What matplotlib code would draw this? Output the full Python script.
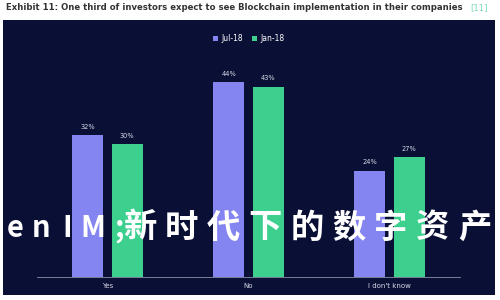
import numpy as np
import matplotlib
matplotlib.use('Agg')
import matplotlib.pyplot as plt

categories = ['Yes', 'No', "I don't know"]
jul_18 = [32, 44, 24]
jan_18 = [30, 43, 27]
series_names = ['Jul-18', 'Jan-18']

title = 'Exhibit 11: One third of investors expect to see Blockchain implementation in their companies'
overlay = 'enIM;新时代下的数字资产管'

navy = '#0a1035'
c_jul = '#8585f2'
c_jan = '#3ccf8e'

fig = plt.figure(figsize=(5, 3), dpi=100)
fig.patch.set_facecolor('white')

# dark panel behind the chart
bg = fig.add_axes([0.006, 0.017, 0.984, 0.917], zorder=-1)
bg.set_facecolor(navy)
bg.set_xticks([])
bg.set_yticks([])
for s in bg.spines.values():
    s.set_visible(False)

fig.text(0.012, 0.975, title, fontsize=6.1, fontweight='bold', color='#333333',
         ha='left', va='center')
fig.text(0.94, 0.975, '[11]', fontsize=6.1, color='#7fd6c0', ha='left', va='center')

ax = fig.add_axes([0.074, 0.0767, 0.846, 0.723])
ax.set_facecolor('none')

x = np.arange(len(categories))
w = 0.22
b1 = ax.bar(x - 0.14, jul_18, w, color=c_jul, label=series_names[0], zorder=2)
b2 = ax.bar(x + 0.14, jan_18, w, color=c_jan, label=series_names[1], zorder=2)

for bars in (b1, b2):
    for rect in bars:
        ax.text(rect.get_x() + rect.get_width() / 2, rect.get_height() + 1.2,
                '%d%%' % rect.get_height(), ha='center', va='bottom',
                fontsize=4.8, color='#d8d8e8')

ax.set_xlim(-0.5, 2.5)
ax.set_ylim(0, 49)
ax.set_xticks(x)
ax.set_xticklabels(categories, fontsize=5, color='#d8d8e8')
ax.tick_params(axis='x', length=0, pad=4)
ax.set_yticks([])
for s in ['top', 'right', 'left']:
    ax.spines[s].set_visible(False)
ax.spines['bottom'].set_color('#8890a8')
ax.spines['bottom'].set_linewidth(0.6)

leg = fig.legend(loc='center', bbox_to_anchor=(0.497, 0.872), ncol=2, frameon=False,
                 fontsize=5.5, handlelength=0.7, handleheight=0.7, handletextpad=0.4,
                 columnspacing=1.2)
for lt in leg.get_texts():
    lt.set_color('white')

# overlay text, spaced character by character (latin narrow, CJK wide)
pos = 15.0
for i, ch in enumerate(overlay):
    wide = ord(ch) > 0x2000
    if i > 0:
        pos += 41.8 if wide else 26
        if wide and ord(overlay[i - 1]) < 0x2000:
            pos = 140.0
    fig.text(pos / 500, 1 - 228 / 300, ch, fontsize=24 if wide else 21,
             color='white', fontweight='bold',
             family=['Noto Sans CJK SC', 'DejaVu Sans'], ha='center', va='center',
             zorder=5)

fig.savefig('out.png', dpi=100, facecolor=fig.get_facecolor())
